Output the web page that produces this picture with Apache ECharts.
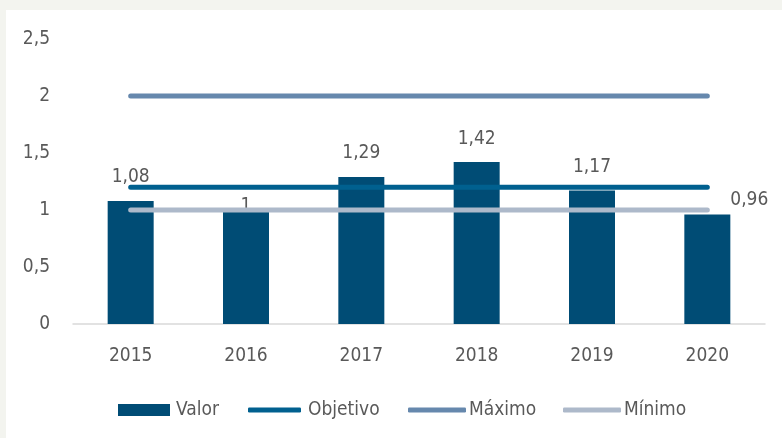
<!DOCTYPE html>
<html>
<head>
<meta charset="utf-8">
<script src="https://cdn.jsdelivr.net/npm/echarts@6/dist/echarts.min.js"></script>
<style>
html,body{margin:0;padding:0;background:#f3f4ef;}
#chart{width:782px;height:438px;}
</style>
</head>
<body>
<div id="chart"></div>
<script>
const categories = ['2015', '2016', '2017', '2018', '2019', '2020'];
const valor = [1.08, 1.00, 1.29, 1.42, 1.17, 0.96];
const objetivo = [1.2, 1.2, 1.2, 1.2, 1.2, 1.2];
const maximo = [2, 2, 2, 2, 2, 2];
const minimo = [1, 1, 1, 1, 1, 1];
const yTicks = { min: 0, max: 2.5, interval: 0.5 };

const FONT = '"DejaVu Sans Condensed", "Liberation Sans Narrow", Roboto, sans-serif';
const TXT = '#595959';
const FS = 19;
const fmt = v => String(Math.round(v * 100) / 100).replace('.', ',');

const chart = echarts.init(document.getElementById('chart'), null, { renderer: 'canvas' });

const labelTweaks = {
  1: { distance: -6 },
  5: { offset: [42, 9] }
};

const barData = valor.map((v, i) => {
  const item = { value: v };
  if (labelTweaks[i]) item.label = Object.assign({}, labelTweaks[i]);
  return item;
});

const lineSeries = (name, data, color) => ({
  name, type: 'line', data, symbol: 'none', z: 5,
  lineStyle: { color, width: 5, cap: 'round' },
  itemStyle: { color },
  emphasis: { disabled: true },
  silent: true
});

const legendText = { color: TXT, fontSize: FS, fontFamily: FONT, lineHeight: 24 };
const mkLegend = (name, icon, left, w, h, pad) => ({
  data: [{ name, icon }], left, top: 393,
  itemWidth: w, itemHeight: h,
  textStyle: Object.assign({ padding: [0, 0, 0, pad] }, legendText)
});

chart.setOption({
  animation: false,
  backgroundColor: '#f3f4ef',
  graphic: [{
    type: 'rect', z: -100, silent: true,
    shape: { x: 6, y: 10, width: 782, height: 438 },
    style: { fill: '#ffffff' }
  }],
  grid: { left: 73, right: 17, top: 39, bottom: 114, containLabel: false },
  legend: [
    mkLegend('Valor', 'rect', 113, 52, 12, 1),
    mkLegend('Objetivo', 'roundRect', 243, 53, 5, 2),
    mkLegend('Máximo', 'roundRect', 403, 58, 5, -2),
    mkLegend('Mínimo', 'roundRect', 558, 58, 5, -2)
  ],
  xAxis: {
    type: 'category', data: categories,
    axisLine: { lineStyle: { color: '#d9d9d9', width: 1.5 } },
    axisTick: { show: false },
    axisLabel: { color: TXT, fontSize: FS, fontFamily: FONT, margin: 23 }
  },
  yAxis: {
    type: 'value', min: yTicks.min, max: yTicks.max, interval: yTicks.interval,
    splitLine: { show: false },
    axisLine: { show: false }, axisTick: { show: false },
    axisLabel: { color: TXT, fontSize: FS, fontFamily: FONT, margin: 23, formatter: fmt }
  },
  series: [
    {
      name: 'Valor', type: 'bar', data: barData, barWidth: 46, z: 2,
      itemStyle: { color: '#004c75' },
      label: { show: true, position: 'top', distance: 14, color: TXT, fontSize: FS, fontFamily: FONT, formatter: p => fmt(p.value) },
      emphasis: { disabled: true }
    },
    lineSeries('Objetivo', objetivo, '#00608f'),
    lineSeries('Máximo', maximo, '#6688ad'),
    lineSeries('Mínimo', minimo, '#adb9ca')
  ]
});
</script>
</body>
</html>
